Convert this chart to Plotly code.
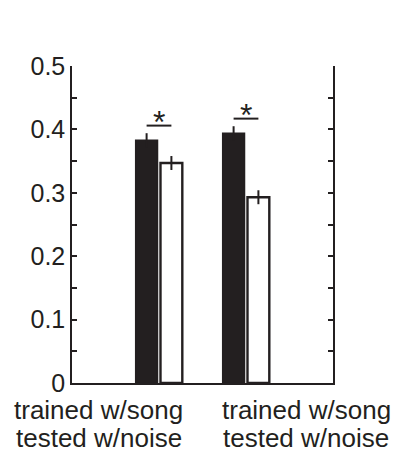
import plotly.graph_objects as go

groups = [1, 2]
label_line1 = ["trained w/song", "trained w/song"]
label_line2 = ["tested w/noise", "tested w/noise"]
label_positions = [0.31, 2.69]
song_vals = [0.383, 0.394]
song_err = [0.011, 0.011]
noise_vals = [0.347, 0.293]
noise_err = [0.011, 0.011]
sig_label = "*"

INK = "#231f20"
FONT = "Liberation Sans, Arial, Helvetica, sans-serif"
BARGAP = 0.43
BARGROUPGAP = 0.12

fig = go.Figure()
fig.add_trace(go.Bar(
    x=groups, y=song_vals, name="song",
    marker=dict(color=INK, line=dict(color=INK, width=1.5)),
    error_y=dict(type="data", array=song_err, color=INK, thickness=2, width=0),
))
fig.add_trace(go.Bar(
    x=groups, y=noise_vals, name="noise",
    marker=dict(color="white", line=dict(color=INK, width=2.4)),
    error_y=dict(type="data", array=noise_err, color=INK, thickness=2, width=0),
))

# significance bars
half = (1 - BARGAP) / 4
for g, sv, se, nv, ne in zip(groups, song_vals, song_err, noise_vals, noise_err):
    top = max(sv + se, nv + ne) + 0.012
    fig.add_shape(type="line", x0=g - half, x1=g + half, y0=top, y1=top,
                  xref="x", yref="y", line=dict(color=INK, width=2))
    fig.add_annotation(x=g, y=top, text=sig_label, showarrow=False,
                       xref="x", yref="y", yanchor="bottom", yshift=-16,
                       font=dict(family=FONT, size=32, color=INK))

# two-line category labels under the axis
for xp, l1, l2 in zip(label_positions, label_line1, label_line2):
    fig.add_annotation(x=xp, y=0, xref="x", yref="paper", text=l1,
                       showarrow=False, yanchor="top", yshift=-10,
                       font=dict(family=FONT, size=26, color=INK))
    fig.add_annotation(x=xp, y=0, xref="x", yref="paper", text=l2,
                       showarrow=False, yanchor="top", yshift=-38,
                       font=dict(family=FONT, size=26, color=INK))

fig.update_layout(
    width=397, height=446,
    margin=dict(l=64, r=72, t=58, b=71, autoexpand=False),
    paper_bgcolor="white", plot_bgcolor="white",
    barmode="group", bargap=BARGAP, bargroupgap=BARGROUPGAP,
    showlegend=False,
    font=dict(family=FONT, size=22, color=INK),
)
fig.update_xaxes(
    range=[0, 3], showticklabels=False,
    showline=True, linecolor=INK, linewidth=1.5, mirror=False,
    ticks="", showgrid=False, zeroline=False, automargin=False,
)
fig.update_yaxes(
    range=[0, 0.5], tickvals=[0, 0.1, 0.2, 0.3, 0.4, 0.5],
    ticktext=["0", "0.1", "0.2", "0.3", "0.4", "0.5"],
    showline=True, linecolor=INK, linewidth=1.5, mirror="ticks",
    ticks="inside", ticklen=5, tickwidth=1.5, tickcolor=INK,
    minor=dict(ticks="inside", dtick=0.05, ticklen=5, tickwidth=1.5, tickcolor=INK),
    showgrid=False, zeroline=False, automargin=False,
    tickfont=dict(family=FONT, size=25, color=INK),
)

fig.write_html("out.html")
